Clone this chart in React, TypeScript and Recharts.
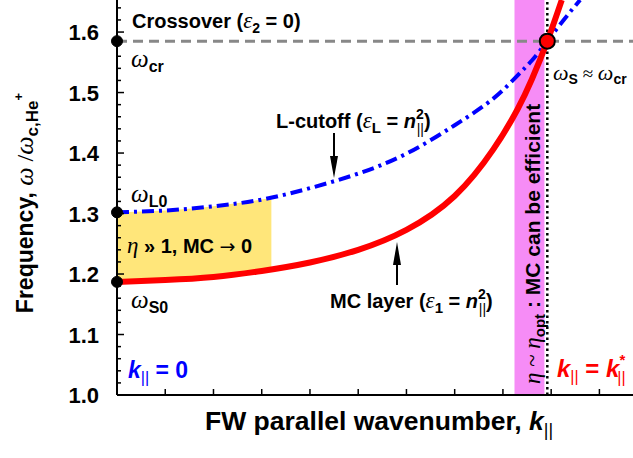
import React from "react";
import {
  ComposedChart,
  Line,
  Area,
  XAxis,
  YAxis,
  ReferenceArea,
  ReferenceLine,
  ReferenceDot,
} from "recharts";

// values (x in arbitrary k|| units)
const redK = [0, 1, 2, 3, 4, 5, 6, 7, 7.8, 8.3, 8.6, 8.92, 9.22];
const redW = [1.187, 1.19, 1.195, 1.205, 1.219, 1.24, 1.273, 1.329, 1.406, 1.472, 1.522, 1.585, 1.653];

const blueK = [0, 1, 2, 3, 4, 5, 6, 7, 7.8, 8.3, 8.6, 8.92, 9.28, 9.6];
const blueW = [1.302, 1.305, 1.312, 1.323, 1.342, 1.366, 1.399, 1.446, 1.49, 1.528, 1.553, 1.585, 1.622, 1.653];

const bandK = [0, 1, 2, 3, 3.2];
const bandLow = [1.187, 1.19, 1.195, 1.205, 1.208];
const bandHigh = [1.302, 1.305, 1.312, 1.323, 1.326];

const omegaCr = 1.585;
const omegaL0 = 1.302;
const omegaS0 = 1.187;
const kStar = 8.92;
const pinkFrom = 8.24;
const pinkTo = 8.86;

const xTicks = [1, 2, 3, 4, 5, 6, 7, 8, 9, 10];
const yTicks = [
  1.0, 1.02, 1.04, 1.06, 1.08, 1.1, 1.12, 1.14, 1.16, 1.18, 1.2, 1.22, 1.24, 1.26, 1.28, 1.3, 1.32,
  1.34, 1.36, 1.38, 1.4, 1.42, 1.44, 1.46, 1.48, 1.5, 1.52, 1.54, 1.56, 1.58, 1.6, 1.62, 1.64,
];

// merge everything into one table for the chart
const table = (() => {
  const rows = new Map<number, any>();
  const row = (k: number) => {
    if (!rows.has(k)) rows.set(k, { k });
    return rows.get(k);
  };
  redK.forEach((k, i) => (row(k).red = redW[i]));
  blueK.forEach((k, i) => (row(k).blue = blueW[i]));
  bandK.forEach((k, i) => (row(k).band = [bandLow[i], bandHigh[i]]));
  return Array.from(rows.values()).sort((a, b) => a.k - b.k);
})();

const SANS = "'Liberation Sans', Arial, Helvetica, sans-serif";
const SERIF = "'Liberation Serif', 'Times New Roman', serif";

const W = 640;
const H = 458;
const PL = 117;
const PR = 638;
const PT = 0;
const PB = 395;

const isMajor = (v: number) => Math.abs(v * 10 - Math.round(v * 10)) < 1e-6;

function LeftTick(props: any) {
  const { y, payload } = props;
  const v = payload.value;
  const major = isMajor(v);
  return (
    <g>
      <line x1={PL} x2={PL + (major ? 7 : 4)} y1={y} y2={y} stroke="#000" strokeWidth={1.5} />
      {major && (
        <text x={99} y={y + 8} textAnchor="end" fontFamily={SANS} fontWeight="bold" fontSize={22} fill="#000">
          {v.toFixed(1)}
        </text>
      )}
    </g>
  );
}

function RightTick(props: any) {
  const { y, payload } = props;
  const major = isMajor(payload.value);
  return <line x1={PR} x2={PR - (major ? 7 : 4)} y1={y} y2={y} stroke="#000" strokeWidth={1.5} />;
}

function BottomTick(props: any) {
  const { x } = props;
  return <line x1={x} x2={x} y1={PB} y2={PB - 6} stroke="#000" strokeWidth={1.5} />;
}

function TopTick(props: any) {
  const { x } = props;
  return <line x1={x} x2={x} y1={PT} y2={PT + 6} stroke="#000" strokeWidth={1.5} />;
}

const subPar = (size: number, dy: number) => (
  <tspan fontSize={size} fontWeight="normal" fontStyle="normal" dy={dy}>
    ||
  </tspan>
);

// text + arrows, drawn on top of the chart
function Annotations() {
  return (
    <svg
      width={633}
      height={H}
      style={{ position: "absolute", left: 0, top: 0, pointerEvents: "none" }}
    >
      <g fontFamily={SANS} fontWeight="bold" fill="#000">
        <text x={132} y={28} fontSize={20}>
          {"Crossover ("}
          <tspan fontFamily={SERIF} fontStyle="italic" fontWeight="normal" fontSize={23}>ε</tspan>
          <tspan fontSize={14} dy={5}>2</tspan>
          <tspan dy={-5}>{" = 0)"}</tspan>
        </text>

        <text x={131} y={67}>
          <tspan fontFamily={SERIF} fontStyle="italic" fontWeight="normal" fontSize={25}>ω</tspan>
          <tspan fontSize={16} dy={5}>cr</tspan>
        </text>
        <text x={131} y={202}>
          <tspan fontFamily={SERIF} fontStyle="italic" fontWeight="normal" fontSize={25}>ω</tspan>
          <tspan fontSize={16} dy={5}>L0</tspan>
        </text>
        <text x={131} y={308}>
          <tspan fontFamily={SERIF} fontStyle="italic" fontWeight="normal" fontSize={25}>ω</tspan>
          <tspan fontSize={16} dy={5}>S0</tspan>
        </text>

        <text x={127} y={253} fontSize={20}>
          <tspan fontFamily={SERIF} fontStyle="italic" fontWeight="normal" fontSize={23}>η</tspan>
          {" » 1, MC "}
          <tspan fontFamily="'DejaVu Sans', sans-serif" fontWeight="normal" fontSize={19}>→</tspan>
          {" 0"}
        </text>

        <text x={128} y={378} fontSize={23} fill="#0000ff">
          <tspan fontStyle="italic">k</tspan>
          {subPar(16, 5)}
          <tspan dy={-5}>{" = 0"}</tspan>
        </text>

        <text x={276} y={128} fontSize={20}>
          {"L-cutoff ("}
          <tspan fontFamily={SERIF} fontStyle="italic" fontWeight="normal" fontSize={23}>ε</tspan>
          <tspan fontSize={15} dy={5}>L</tspan>
          <tspan dy={-5}>{" = "}</tspan>
          <tspan fontStyle="italic">n</tspan>
          <tspan fontSize={14} dy={-9}>2</tspan>
          <tspan fontSize={14} fontWeight="normal" dx={-7} dy={15}>||</tspan>
          <tspan dy={-6}>)</tspan>
        </text>
        <line x1={334} x2={334} y1={133} y2={160} stroke="#000" strokeWidth={2} />
        <polygon points="330,156 338,156 334,178" fill="#000" />

        <text x={330} y={308} fontSize={20}>
          {"MC layer ("}
          <tspan fontFamily={SERIF} fontStyle="italic" fontWeight="normal" fontSize={23}>ε</tspan>
          <tspan fontSize={15} dy={5}>1</tspan>
          <tspan dy={-5}>{" = "}</tspan>
          <tspan fontStyle="italic">n</tspan>
          <tspan fontSize={14} dy={-9}>2</tspan>
          <tspan fontSize={14} fontWeight="normal" dx={-7} dy={15}>||</tspan>
          <tspan dy={-6}>)</tspan>
        </text>
        <line x1={397} x2={397} y1={285} y2={262} stroke="#000" strokeWidth={2} />
        <polygon points="393,265 401,265 397,242" fill="#000" />

        <text x={553} y={80}>
          <tspan fontFamily={SERIF} fontStyle="italic" fontWeight="normal" fontSize={22}>ω</tspan>
          <tspan fontSize={14} dy={4}>S</tspan>
          <tspan fontFamily={SERIF} fontWeight="normal" fontSize={19} dy={-4}>{" ≈ "}</tspan>
          <tspan fontFamily={SERIF} fontStyle="italic" fontWeight="normal" fontSize={22}>ω</tspan>
          <tspan fontSize={14} dy={4}>cr</tspan>
        </text>

        <text transform="translate(540,384) rotate(-90)" fontSize={21}>
          <tspan fontFamily={SERIF} fontStyle="italic" fontWeight="normal" fontSize={23}>η</tspan>
          <tspan fontFamily={SERIF} fontWeight="normal" fontSize={23}>{" ~ "}</tspan>
          <tspan fontFamily={SERIF} fontStyle="italic" fontWeight="normal" fontSize={23}>η</tspan>
          <tspan fontSize={15} dy={5}>opt</tspan>
          <tspan dy={-5}>{" : MC can be efficient"}</tspan>
        </text>

        <text x={557} y={377} fontSize={24} fill="#ff0000">
          <tspan fontStyle="italic">k</tspan>
          {subPar(16, 5)}
          <tspan dy={-5}>{" = "}</tspan>
          <tspan fontStyle="italic">k</tspan>
          <tspan fontSize={15} dy={-12}>*</tspan>
          <tspan fontSize={16} fontWeight="normal" dx={-8} dy={18}>||</tspan>
        </text>

        <text x={205} y={430} fontSize={26.5}>
          {"FW parallel wavenumber, "}
          <tspan fontStyle="italic">k</tspan>
          {subPar(18, 6)}
        </text>

        <text transform="translate(33,203) rotate(-90)" textAnchor="middle" fontSize={23}>
          {"Frequency, "}
          <tspan fontFamily={SERIF} fontStyle="italic" fontWeight="normal" fontSize={26}>ω</tspan>
          <tspan fontFamily={SERIF} fontWeight="normal" fontSize={24}>{" /"}</tspan>
          <tspan fontFamily={SERIF} fontStyle="italic" fontWeight="normal" fontSize={26}>ω</tspan>
          <tspan fontSize={17} dy={5}>c,He</tspan>
          <tspan fontSize={13} dy={-15}>+</tspan>
        </text>
      </g>
    </svg>
  );
}

export default function App() {
  return (
    <div
      style={{
        position: "absolute",
        left: 0,
        top: 0,
        width: 633,
        height: H,
        overflow: "hidden",
        background: "#fff",
      }}
    >
      <ComposedChart width={W} height={H} data={table} margin={{ top: 0, right: 2, bottom: 0, left: 0 }}>
        <XAxis
          dataKey="k"
          type="number"
          domain={[0, 10.8]}
          allowDataOverflow
          ticks={xTicks}
          interval={0}
          height={63}
          tick={<BottomTick />}
          tickLine={false}
          axisLine={{ stroke: "#000", strokeWidth: 2 }}
        />
        <XAxis
          xAxisId="top"
          orientation="top"
          dataKey="k"
          type="number"
          domain={[0, 10.8]}
          allowDataOverflow
          ticks={xTicks}
          interval={0}
          height={0}
          tick={<TopTick />}
          tickLine={false}
          axisLine={{ stroke: "#000", strokeWidth: 2 }}
        />
        <YAxis
          type="number"
          domain={[1.0, 1.653]}
          allowDataOverflow
          ticks={yTicks}
          interval={0}
          width={117}
          tick={<LeftTick />}
          tickLine={false}
          axisLine={{ stroke: "#000", strokeWidth: 2 }}
        />
        <YAxis
          yAxisId="right"
          orientation="right"
          type="number"
          domain={[1.0, 1.653]}
          allowDataOverflow
          ticks={yTicks}
          interval={0}
          width={0}
          tick={<RightTick />}
          tickLine={false}
          axisLine={{ stroke: "#000", strokeWidth: 2 }}
        />

        <ReferenceArea x1={pinkFrom} x2={pinkTo} y1={1.0} y2={1.653} fill="#f68cf6" fillOpacity={1} stroke="none" />
        <Area
          dataKey="band"
          type="natural"
          fill="#ffe67a"
          fillOpacity={1}
          stroke="none"
          isAnimationActive={false}
          activeDot={false}
          dot={false}
        />
        <ReferenceLine y={omegaCr} stroke="#888888" strokeWidth={3} strokeDasharray="10 6" />
        <ReferenceLine x={kStar} stroke="#000" strokeWidth={2.5} strokeDasharray="2.5 3" />
        <Line
          dataKey="blue"
          type="natural"
          stroke="#0000ff"
          strokeWidth={4}
          strokeDasharray="12 5 3 5"
          dot={false}
          activeDot={false}
          connectNulls
          isAnimationActive={false}
        />
        <Line
          dataKey="red"
          type="natural"
          stroke="#ff0000"
          strokeWidth={6}
          dot={false}
          activeDot={false}
          connectNulls
          isAnimationActive={false}
        />
        <ReferenceDot x={0} y={omegaCr} r={5.5} fill="#000" stroke="#000" />
        <ReferenceDot x={0} y={omegaL0} r={5.5} fill="#000" stroke="#000" />
        <ReferenceDot x={0} y={omegaS0} r={5.5} fill="#000" stroke="#000" />
        <ReferenceDot x={kStar} y={omegaCr} r={7.5} fill="#ff0000" stroke="#000" strokeWidth={2} />
      </ComposedChart>
      <Annotations />
    </div>
  );
}
